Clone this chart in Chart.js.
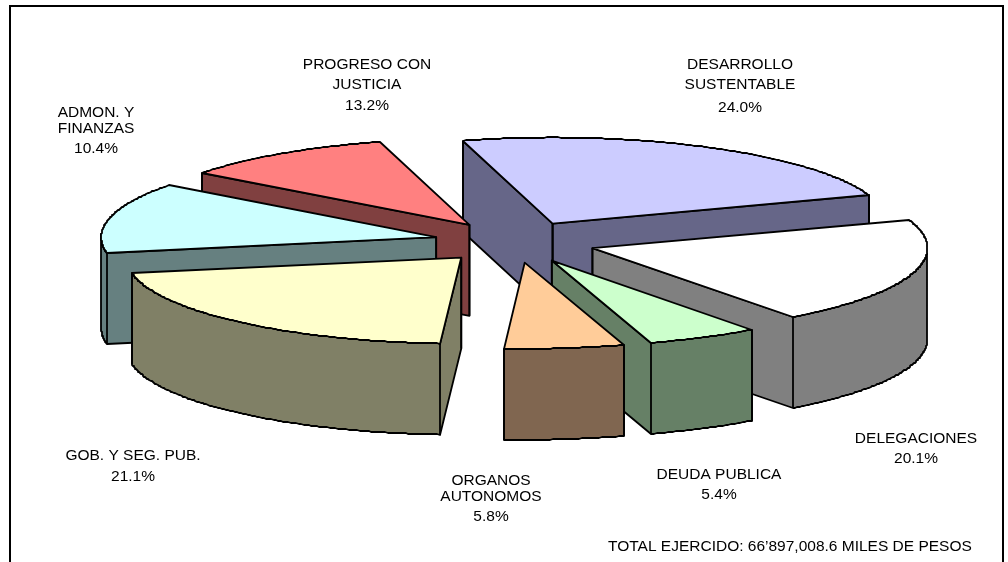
<!DOCTYPE html>
<html>
<head>
<meta charset="utf-8">
<title>Total ejercido</title>
<style>
  html, body { margin: 0; padding: 0; background: #fff; overflow: hidden; }
  canvas { display: block; }
</style>
<script src="https://cdn.jsdelivr.net/npm/chart.js@4"></script>
</head>
<body>
<canvas id="pie" width="1008" height="562"></canvas>
<script>
// values, % of total, clockwise
// the cyan slice is the 13.2 one and the red the 10.4, labels sit away from them
const categories = [
  ['DESARROLLO', 'SUSTENTABLE'],
  ['DELEGACIONES'],
  ['DEUDA PUBLICA'],
  ['ORGANOS', 'AUTONOMOS'],
  ['GOB. Y SEG. PUB.'],
  ['PROGRESO CON', 'JUSTICIA'],
  ['ADMON. Y', 'FINANZAS']
]
const values = [24.0, 20.1, 5.4, 5.8, 21.1, 13.2, 10.4]
const topColors = ['#CCCCFF', '#FFFFFF', '#CCFFCC', '#FFCC99', '#FFFFCC', '#CCFFFF', '#FF8080']
const sideColors = ['#666688', '#808080', '#668066', '#806650', '#808066', '#668080', '#804040']
const totalText = 'TOTAL EJERCIDO: 66\u2019897,008.6 MILES DE PESOS'

// where each label sits: centre x, then y of every line
const labelSpots = [
  [740, [65, 85, 108]],
  [916, [439, 459]],
  [719, [475, 495]],
  [491, [481, 497, 517]],
  [133, [456, 477]],
  [367, [65, 85, 106]],
  [96, [113, 129, 149]]
]

const tilt = 0.257
const depth = 91
const explode = 81
const arcStep = Math.PI / 360

// top face of a slice as a polygon, clockwise on screen
function sliceOutline(arc) {
  const mid = (arc.startAngle + arc.endAngle) / 2
  const cx = arc.x + Math.cos(mid) * arc.options.offset
  const cy = arc.y + Math.sin(mid) * arc.options.offset * tilt
  const pts = [[cx, cy]]
  const n = Math.ceil((arc.endAngle - arc.startAngle) / arcStep)
  for (let i = 0; i <= n; i++) {
    const a = arc.startAngle + (arc.endAngle - arc.startAngle) * i / n
    // whole pixels give the small ripple the original edge has
    pts.push([
      Math.round(cx + Math.cos(a) * arc.outerRadius),
      Math.round(cy + Math.sin(a) * arc.outerRadius * tilt)
    ])
  }
  return pts
}

function tracePoly(ctx, pts) {
  ctx.beginPath()
  pts.forEach((p, i) => i ? ctx.lineTo(p[0], p[1]) : ctx.moveTo(p[0], p[1]))
  ctx.closePath()
}

const pie3d = {
  id: 'pie3d',
  beforeDraw(chart) {
    const ctx = chart.ctx
    ctx.save()
    ctx.strokeStyle = '#000'
    ctx.lineWidth = 2
    ctx.strokeRect(10, 6, 993, 600)
    ctx.restore()
  },
  beforeDatasetsDraw(chart) {
    const ctx = chart.ctx
    const arcs = chart.getDatasetMeta(0).data
    const slices = arcs.map((arc, i) => ({ i, pts: sliceOutline(arc) }))
    slices.sort((a, b) => a.pts[0][1] - b.pts[0][1])

    ctx.save()
    ctx.strokeStyle = '#000'
    ctx.lineWidth = 1.8
    ctx.lineJoin = 'round'
    slices.forEach(({ i, pts }) => {
      // wall: only the edges that run leftwards face the viewer
      const walls = []
      let run = null
      for (let k = 0; k < pts.length; k++) {
        const p = pts[k]
        const q = pts[(k + 1) % pts.length]
        if (q[0] < p[0]) {
          if (!run) { run = [p]; walls.push(run) }
          run.push(q)
        } else if (q[0] > p[0]) {
          run = null
        } else if (run) {
          run.push(q)
        }
      }
      walls.forEach(run => {
        const low = run.slice().reverse().map(p => [p[0], p[1] + depth])
        ctx.fillStyle = sideColors[i]
        tracePoly(ctx, run.concat(low))
        ctx.fill()
        ctx.stroke()
      })
      // corner lines between the flat cut and the curved wall
      ctx.fillStyle = topColors[i]
      tracePoly(ctx, pts)
      ctx.fill()
      ctx.stroke()
      ;[pts[0], pts[1], pts[pts.length - 1]].forEach(p => {
        if (walls.some(run => run.includes(p))) {
          ctx.beginPath()
          ctx.moveTo(p[0], p[1])
          ctx.lineTo(p[0], p[1] + depth)
          ctx.stroke()
        }
      })
    })
    ctx.restore()
    return false
  },
  afterDraw(chart) {
    const ctx = chart.ctx
    ctx.save()
    ctx.fillStyle = '#000'
    ctx.font = '15.5px "Liberation Sans", Arial, sans-serif'
    ctx.textAlign = 'center'
    ctx.textBaseline = 'middle'
    categories.forEach((lines, i) => {
      const [x, ys] = labelSpots[i]
      lines.forEach((line, k) => ctx.fillText(line, x, ys[k]))
      ctx.fillText(values[i].toFixed(1) + '%', x, ys[lines.length])
    })
    ctx.textAlign = 'left'
    ctx.fillText(totalText, 608, 547)
    ctx.restore()
  }
}

new Chart(document.getElementById('pie'), {
  type: 'pie',
  data: {
    labels: categories.map(l => l.join(' ')),
    datasets: [{
      data: values,
      backgroundColor: topColors,
      borderColor: '#000',
      offset: explode
    }]
  },
  options: {
    responsive: false,
    animation: false,
    events: [],
    rotation: -15.5,
    radius: 335,
    layout: { padding: { left: 22, bottom: 78 } },
    plugins: { legend: { display: false }, tooltip: { enabled: false } }
  },
  plugins: [pie3d]
})
</script>
</body>
</html>
